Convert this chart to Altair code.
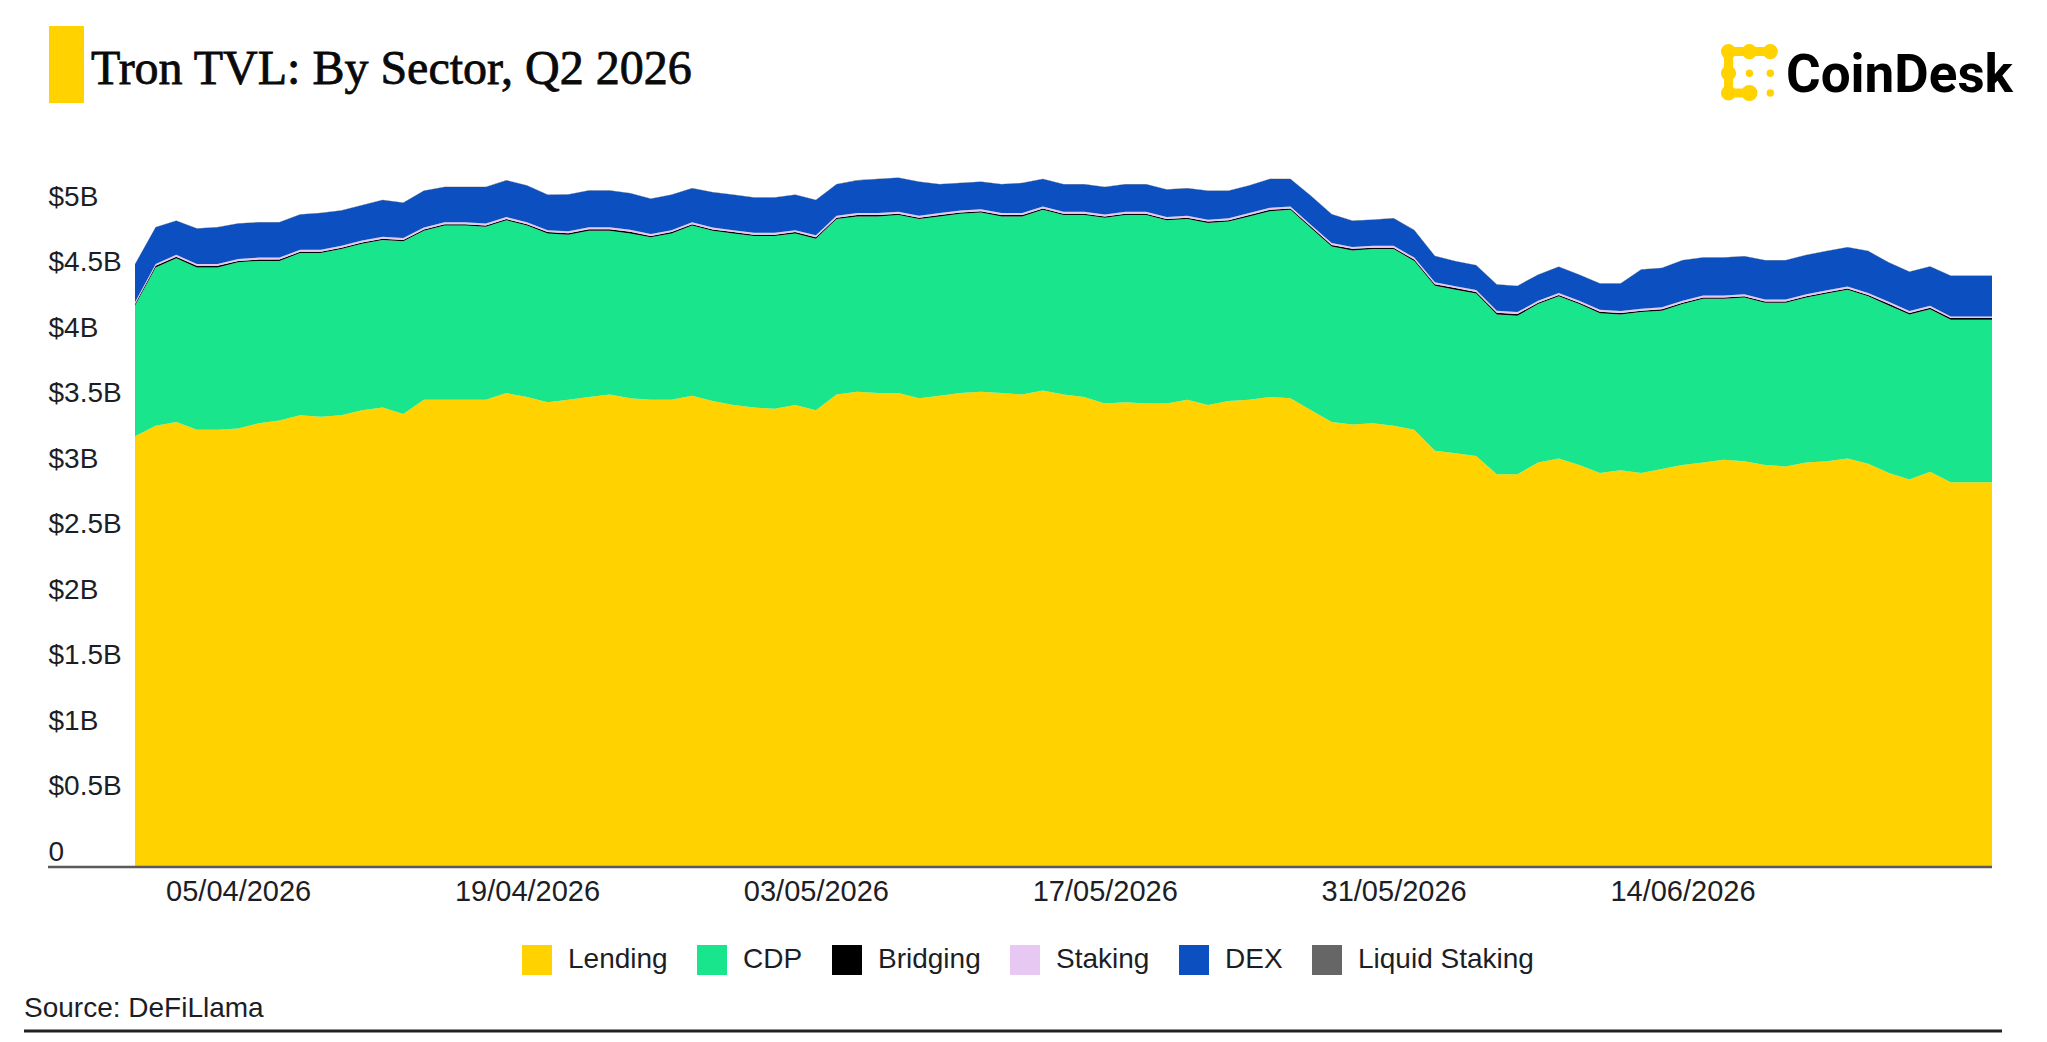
import altair as alt
import pandas as pd

# ---------------- data (values in $ billions) ----------------
dates = pd.date_range("2026-03-31", periods=91, freq="D").strftime("%Y-%m-%d").tolist()

sectors = ["Lending", "CDP", "Bridging", "Staking", "DEX", "Liquid Staking"]
colors = ["#FFD200", "#19E68C", "#000000", "#E6C8F2", "#0B4FC0", "#666666"]

lending = [3.29, 3.37, 3.40, 3.34, 3.34, 3.35, 3.39, 3.41, 3.45, 3.44,
           3.45, 3.49, 3.51, 3.46, 3.57, 3.57, 3.57, 3.57, 3.62, 3.59,
           3.55, 3.57, 3.59, 3.61, 3.58, 3.57, 3.57, 3.60, 3.56, 3.53,
           3.51, 3.50, 3.53, 3.49, 3.61, 3.63, 3.62, 3.62, 3.58, 3.60,
           3.62, 3.63, 3.62, 3.61, 3.64, 3.61, 3.59, 3.54, 3.55, 3.54,
           3.54, 3.57, 3.53, 3.56, 3.57, 3.59, 3.58, 3.49, 3.40, 3.38,
           3.39, 3.37, 3.34, 3.18, 3.16, 3.14, 3.00, 3.00, 3.09, 3.12,
           3.07, 3.01, 3.03, 3.01, 3.04, 3.07, 3.09, 3.11, 3.10, 3.07,
           3.06, 3.09, 3.10, 3.12, 3.08, 3.01, 2.96, 3.02, 2.94, 2.94,
           2.94]

cdp = [1.00, 1.21, 1.25, 1.24, 1.24, 1.27, 1.24, 1.22, 1.24, 1.25,
       1.27, 1.27, 1.28, 1.32, 1.29, 1.33, 1.33, 1.32, 1.32, 1.31,
       1.29, 1.26, 1.27, 1.25, 1.26, 1.24, 1.27, 1.30, 1.30, 1.31,
       1.31, 1.32, 1.31, 1.31, 1.34, 1.34, 1.35, 1.36, 1.37, 1.37,
       1.37, 1.37, 1.35, 1.36, 1.38, 1.37, 1.39, 1.42, 1.43, 1.44,
       1.40, 1.38, 1.39, 1.37, 1.40, 1.42, 1.44, 1.39, 1.34, 1.33,
       1.33, 1.35, 1.29, 1.26, 1.25, 1.24, 1.22, 1.21, 1.21, 1.24,
       1.23, 1.22, 1.19, 1.23, 1.21, 1.23, 1.25, 1.23, 1.25, 1.24,
       1.25, 1.26, 1.28, 1.29, 1.28, 1.28, 1.26, 1.24, 1.24, 1.24,
       1.24]

bridging = [0.010, 0.012, 0.012, 0.012, 0.012, 0.010, 0.010, 0.010, 0.010, 0.010,
            0.010, 0.010, 0.010, 0.010, 0.010, 0.010, 0.010, 0.010, 0.010, 0.010,
            0.010, 0.012, 0.012, 0.012, 0.012, 0.010, 0.010, 0.010, 0.010, 0.010,
            0.010, 0.010, 0.010, 0.010, 0.010, 0.010, 0.010, 0.010, 0.010, 0.010,
            0.010, 0.010, 0.010, 0.010, 0.010, 0.010, 0.010, 0.010, 0.010, 0.010,
            0.010, 0.010, 0.010, 0.010, 0.010, 0.010, 0.010, 0.010, 0.012, 0.012,
            0.010, 0.010, 0.010, 0.012, 0.012, 0.012, 0.014, 0.014, 0.010, 0.010,
            0.010, 0.012, 0.012, 0.010, 0.010, 0.010, 0.010, 0.010, 0.010, 0.010,
            0.010, 0.010, 0.010, 0.010, 0.010, 0.012, 0.012, 0.012, 0.014, 0.014,
            0.014]

staking = [0.015, 0.015, 0.015, 0.015, 0.015, 0.015, 0.015, 0.015, 0.015, 0.015,
           0.015, 0.015, 0.015, 0.015, 0.015, 0.015, 0.015, 0.015, 0.015, 0.015,
           0.015, 0.015, 0.015, 0.015, 0.015, 0.015, 0.015, 0.015, 0.015, 0.015,
           0.015, 0.015, 0.015, 0.015, 0.015, 0.015, 0.015, 0.015, 0.015, 0.015,
           0.015, 0.015, 0.015, 0.015, 0.015, 0.015, 0.015, 0.015, 0.015, 0.015,
           0.015, 0.015, 0.015, 0.015, 0.015, 0.015, 0.015, 0.015, 0.015, 0.015,
           0.015, 0.015, 0.015, 0.015, 0.015, 0.015, 0.015, 0.015, 0.015, 0.015,
           0.015, 0.015, 0.015, 0.015, 0.015, 0.015, 0.015, 0.015, 0.015, 0.015,
           0.015, 0.015, 0.015, 0.015, 0.015, 0.015, 0.015, 0.015, 0.012, 0.012,
           0.012]

dex = [0.29, 0.28, 0.26, 0.27, 0.28, 0.27, 0.27, 0.27, 0.27, 0.28,
       0.27, 0.27, 0.28, 0.27, 0.28, 0.27, 0.27, 0.28, 0.28, 0.28,
       0.27, 0.28, 0.28, 0.28, 0.28, 0.27, 0.27, 0.26, 0.27, 0.27,
       0.27, 0.27, 0.27, 0.27, 0.24, 0.25, 0.26, 0.26, 0.26, 0.22,
       0.21, 0.21, 0.22, 0.23, 0.21, 0.21, 0.21, 0.21, 0.21, 0.21,
       0.21, 0.21, 0.22, 0.21, 0.21, 0.22, 0.21, 0.22, 0.22, 0.20,
       0.20, 0.21, 0.21, 0.20, 0.19, 0.19, 0.20, 0.20, 0.20, 0.20,
       0.20, 0.20, 0.21, 0.30, 0.30, 0.31, 0.29, 0.29, 0.29, 0.30,
       0.30, 0.30, 0.30, 0.30, 0.32, 0.30, 0.30, 0.30, 0.31, 0.31,
       0.31]

liquid_staking = [0.002] * 91

tick_dates = [(4, 5), (4, 19), (5, 3), (5, 17), (5, 31), (6, 14)]
y_ticks = [0, 0.5, 1, 1.5, 2, 2.5, 3, 3.5, 4, 4.5, 5]

series = [lending, cdp, bridging, staking, dex, liquid_staking]
rows = []
for k, (name, vals) in enumerate(zip(sectors, series)):
    for d, v in zip(dates, vals):
        rows.append({"date": d, "sector": name, "order": k, "value": v})
df = pd.DataFrame(rows)

# ---------------- layout ----------------
W, H = 1857, 720
SANS = "Liberation Sans"
INK = "#1c1e26"
YELLOW = "#FFD200"

def dt(m, d):
    return alt.DateTime(year=2026, month=m, date=d, utc=True)

area = alt.Chart(df).mark_area(interpolate="linear").encode(
    x=alt.X(
        "date:T",
        scale=alt.Scale(type="utc", domain=[dt(3, 31), dt(6, 29)], nice=False),
        axis=alt.Axis(
            values=[dt(m, d) for m, d in tick_dates], format="%d/%m/%Y",
            domain=False, ticks=False, grid=False, title=None,
            labelFont=SANS, labelFontSize=29, labelColor=INK,
            labelPadding=10, labelFlush=False,
        ),
    ),
    y=alt.Y(
        "value:Q", stack="zero",
        scale=alt.Scale(domain=[0, 5.5], nice=False),
        axis=alt.Axis(
            values=y_ticks, format="~g",
            labelExpr="datum.value == 0 ? '0' : '$' + datum.label + 'B'",
            domain=False, ticks=False, grid=False, title=None,
            labelFont=SANS, labelFontSize=28, labelColor=INK,
            labelAlign="left", labelBaseline="alphabetic",
            labelPadding=87, labelOffset=-7, labelFlush=False,
        ),
    ),
    color=alt.Color(
        "sector:N",
        scale=alt.Scale(domain=sectors, range=colors),
        legend=alt.Legend(
            orient="none", legendX=387, legendY=798, direction="horizontal",
            columns=6, title=None, symbolType="square", symbolSize=900,
            symbolStrokeWidth=0, symbolOpacity=1, labelFont=SANS,
            labelFontSize=28, labelColor=INK, labelOffset=16,
            columnPadding=29, padding=0, labelLimit=400,
        ),
    ),
    order=alt.Order("order:Q", sort="ascending"),
)

one = pd.DataFrame({"k": [0]})

def text(x, y, s, **kw):
    return alt.Chart(one).mark_text(align="left", baseline="alphabetic", **kw).encode(
        x=alt.value(x), y=alt.value(y), text=alt.value(s))

def hrule(x1, x2, y, color, width):
    return alt.Chart(one).mark_rule(color=color, strokeWidth=width).encode(
        x=alt.value(x1), x2=alt.value(x2), y=alt.value(y))

layers = [area]
# axis baseline extending under the y labels
layers.append(hrule(-87, W, H, "#5a5a5a", 2.5))
# title block
layers.append(alt.Chart(one).mark_rect(color=YELLOW).encode(
    x=alt.value(-86), x2=alt.value(-51), y=alt.value(-121), y2=alt.value(-44)))
layers.append(text(-44, -63, "Tron TVL: By Sector, Q2 2026",
                   font="Liberation Serif", fontSize=48, color="#0a0a0a",
                   stroke="#0a0a0a", strokeWidth=0.8))
# CoinDesk logo
lx = [1593.5, 1614.4, 1635.3]
ly = [-95.4, -73.8, -54.0]
layers.append(hrule(lx[0], lx[2], ly[0], YELLOW, 9))
layers.append(hrule(lx[0], lx[1], ly[2], YELLOW, 9))
layers.append(alt.Chart(one).mark_rule(color=YELLOW, strokeWidth=9).encode(
    x=alt.value(lx[0]), y=alt.value(ly[0]), y2=alt.value(ly[2])))
for (cx, cy, sz) in [(lx[0], ly[0], 230), (lx[1], ly[0], 230), (lx[2], ly[0], 230),
                     (lx[0], ly[1], 230), (lx[0], ly[2], 230), (lx[1], ly[2], 260),
                     (lx[1], ly[1], 55), (lx[2], ly[1], 55), (lx[2], ly[2], 55)]:
    layers.append(alt.Chart(one).mark_circle(color=YELLOW, opacity=1, size=sz).encode(
        x=alt.value(cx), y=alt.value(cy)))
layers.append(text(1651, -54.6, "CoinDesk", font="Roboto", fontSize=53,
                   fontWeight="bold", color="#000000"))
# source + bottom rule
layers.append(text(-111, 870, "Source: DeFiLlama", font=SANS, fontSize=28, color=INK))
layers.append(hrule(-111, 1867, 884, "#222222", 3))

chart = alt.layer(*layers).properties(
    width=W, height=H,
    padding={"left": 127, "top": 139, "right": 40, "bottom": 167},
    autosize=alt.AutoSizeParams(type="none"),
    background="white",
).configure_view(stroke=None)

chart.save("out.html", embed_options={"renderer": "svg", "actions": False})
